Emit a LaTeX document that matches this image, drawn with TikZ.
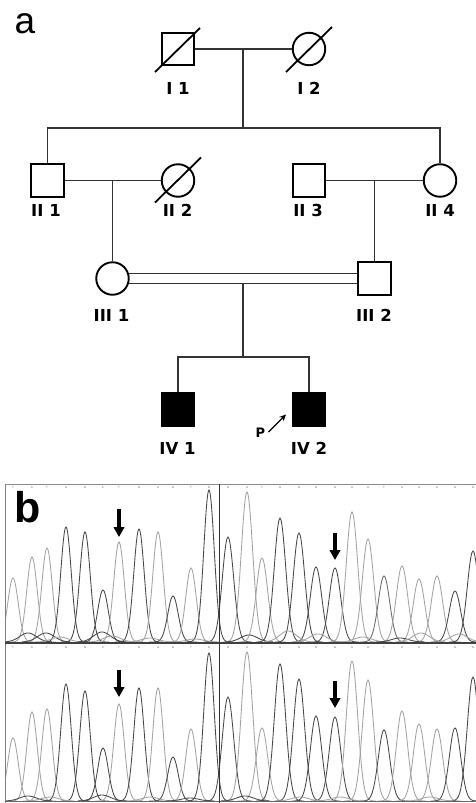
\documentclass[tikz,border=0pt]{standalone}
\usepackage{fontspec}
\setmainfont{Liberation Sans}
\newfontfamily\pedfont{DejaVu Sans}
\usetikzlibrary{arrows.meta}

\colorlet{dk}{black!72}
\colorlet{md}{black!58}
\colorlet{lt}{black!36}

% one trace peak: centre, top, baseline, colour, 2*sigma^2
\newcommand\pk[5]{%
  \pgfmathsetmacro\pkL{#1-24}\pgfmathsetmacro\pkR{#1+24}%
  \draw[draw=#4, line width=0.85pt] plot[domain=\pkL:\pkR, samples=49, smooth]
    (\x,{#3-(#3-#2)*exp(-(\x-#1)*(\x-#1)/#5)});}

\tikzset{
  male/.style={draw, minimum size=32.5pt, inner sep=0pt, line width=1.9pt},
  female/.style={draw, circle, minimum size=32.5pt, inner sep=0pt, line width=1.9pt},
  link/.style={line width=1.2pt, draw=black!80},
  slash/.style={line width=1.8pt},
  lbl/.style={font=\pedfont\bfseries\fontsize{16.5}{17}\selectfont, inner sep=0pt},
  seq/.style={font=\fontsize{3}{3}\selectfont, text=black!55, inner sep=0pt},
  downarrow/.style={line width=3.6pt, -{Triangle[width=10.5pt,length=10pt]}}
}

\begin{document}
\begin{tikzpicture}[x=1pt, y=-1pt]
\useasboundingbox (0,0) rectangle (476,803);
\fill[white] (0,0) rectangle (476,803);

% ---------------- panel a: pedigree ----------------
\node[font=\fontsize{37}{37}\selectfont, anchor=base] (la) at (25,33) {a};

\node[male]   (I1)   at (178,49) {};
\node[female] (I2)   at (309,49) {};
\node[male]   (II1)  at (47.5,180.5) {};
\node[female] (II2)  at (178,180.5) {};
\node[male]   (II3)  at (309,180.5) {};
\node[female] (II4)  at (440,180.5) {};
\node[female] (III1) at (112.5,278.5) {};
\node[male]   (III2) at (374.5,278.5) {};
\node[male, fill=black] (IV1) at (178,409.5) {};
\node[male, fill=black] (IV2) at (309,409.5) {};

% deceased
\draw[slash] (I1.center) ++(-23,23) -- ++(45,-44);
\draw[slash] (I2.center) ++(-23,23) -- ++(46,-45);
\draw[slash] (II2.center) ++(-23,22) -- ++(46,-45);

% generation I to II
\coordinate (m1) at (243,49);
\coordinate (s1) at (243,128);
\draw[link] (I1) -- (I2);
\draw[link] (m1) -- (s1);
\draw[link] (II1.north) |- (s1) -| (II4.north);

% generation II to III
\coordinate (m2) at (112.5,180.5);
\coordinate (m3) at (374.5,180.5);
\draw[link] (II1) -- (II2);
\draw[link] (II3) -- (II4);
\draw[link] (m2) -- (III1.north);
\draw[link] (m3) -- (III2.north);

% consanguineous union and generation IV
\draw[link] (III1.18) -- (III1.18 -| III2.west);
\draw[link] (III1.-18) -- (III1.-18 -| III2.west);
\coordinate (m4) at (243,283.8);
\coordinate (s4) at (243,357);
\draw[link] (m4) -- (s4);
\draw[link] (IV1.north) |- (s4) -| (IV2.north);

% labels
\node[lbl] (lI1)   at (178,88.5)  {I 1};
\node[lbl] (lI2)   at (309,88.5)  {I 2};
\node[lbl] (lII1)  at (46,210.5)  {II 1};
\node[lbl] (lII2)  at (177.5,210.5) {II 2};
\node[lbl] (lII3)  at (308,210.5) {II 3};
\node[lbl] (lII4)  at (440,210.5) {II 4};
\node[lbl] (lIII1) at (111.5,315.5) {III 1};
\node[lbl] (lIII2) at (374,315.5) {III 2};
\node[lbl] (lIV1)  at (177.5,448) {IV 1};
\node[lbl] (lIV2)  at (309,448)   {IV 2};

% proband
\node[font=\pedfont\bfseries\fontsize{13}{13}\selectfont, inner sep=0pt] (P) at (260.5,432.5) {P};
\coordinate (pa) at (268.5,432);
\coordinate (pb) at (286,414.5);
\draw[line width=1.4pt, -{Stealth[length=6.5pt,width=6pt]}] (pa) -- (pb);

% ---------------- panel b: chromatograms ----------------
\begin{scope}
\clip (5,484) rectangle (476,643);
\foreach \c/\t/\s in {13/578/lt, 32/557/lt, 47/548/lt, 66/527/dk, 85/532/dk, 103/590/dk,
    119/542/lt, 139/529/dk, 158/532/lt, 173/596/dk, 191/568/lt, 209/490/dk}
  {\pk{\c}{\t}{642}{\s}{55}}
\foreach \c/\t/\s in {228/537/dk, 247/492/lt, 262/558/lt, 280/518/dk, 299/533/dk, 316/567/dk,
    335/568/dk, 352/512/lt, 368/539/lt, 384/576/md, 402/566/lt, 419/579/lt, 437/576/lt,
    455/591/dk, 473/551/dk}
  {\pk{\c}{\t}{642}{\s}{65}}
\foreach \c/\t/\s in {28/633/dk, 46/633/dk, 60/637/lt, 102/632/dk, 112/636/lt, 150/638/lt,
    195/639/lt, 249/635/dk, 288/631/lt, 318/634/lt, 363/637/lt, 400/638/dk, 421/633/lt, 459/634/lt}
  {\pk{\c}{\t}{642}{\s}{140}}
\end{scope}

\begin{scope}
\clip (5,650) rectangle (476,803);
\foreach \c/\t/\s in {13/738/lt, 32/712/lt, 47/709/lt, 66/684/dk, 85/691/dk, 103/748/dk,
    119/704/lt, 139/688/dk, 158/688/lt, 173/757/dk, 191/729/lt, 209/653/dk}
  {\pk{\c}{\t}{801}{\s}{55}}
\foreach \c/\t/\s in {228/697/dk, 247/652/lt, 262/728/lt, 280/664/dk, 299/679/dk, 316/716/dk,
    335/717/dk, 352/661/lt, 368/680/lt, 384/730/dk, 402/711/lt, 419/724/lt, 437/729/lt,
    455/728/dk, 473/677/dk}
  {\pk{\c}{\t}{801}{\s}{65}}
\foreach \c/\t/\s in {28/796/dk, 50/797/lt, 102/795/dk, 150/797/lt, 190/798/dk,
    245/796/dk, 300/797/lt, 340/797/lt, 430/797/lt}
  {\pk{\c}{\t}{801}{\s}{140}}
\end{scope}

% frame lines
\draw[black!45, line width=0.9pt] (5,484) -- (476,484);
\draw[black!50, line width=0.9pt] (5,484) -- (5,803);
\draw[black!75, line width=1.5pt] (5,643) -- (476,643);
\draw[black!60, line width=0.9pt] (5,801.5) -- (476,801.5);
\draw[black!80, line width=1.2pt] (219.5,484) -- (219.5,803);

% base calls
\foreach \c/\l in {13/T, 32/A, 47/T, 66/G, 85/G, 103/C, 119/T, 139/G, 158/A, 173/G, 191/T, 209/G,
    228/G, 247/A, 262/T, 280/G, 299/G, 316/G, 335/G, 352/A, 368/A, 384/T, 402/A, 419/A, 437/A,
    455/G, 473/G}
  {\node[seq] (ta\c) at (\c,487.5) {\l};
   \node[seq] (tb\c) at (\c,647.5) {\l};}

% mutation markers
\coordinate (a1) at (119,509);  \coordinate (a1e) at (119,537);
\coordinate (a2) at (335,533);  \coordinate (a2e) at (335,560);
\coordinate (a3) at (119,670);  \coordinate (a3e) at (119,697);
\coordinate (a4) at (335,681);  \coordinate (a4e) at (335,708);
\draw[downarrow] (a1) -- (a1e);
\draw[downarrow] (a2) -- (a2e);
\draw[downarrow] (a3) -- (a3e);
\draw[downarrow] (a4) -- (a4e);

\node[font=\bfseries\fontsize{43}{43}\selectfont, anchor=base] (lb) at (28,522) {b};
\end{tikzpicture}
\end{document}
